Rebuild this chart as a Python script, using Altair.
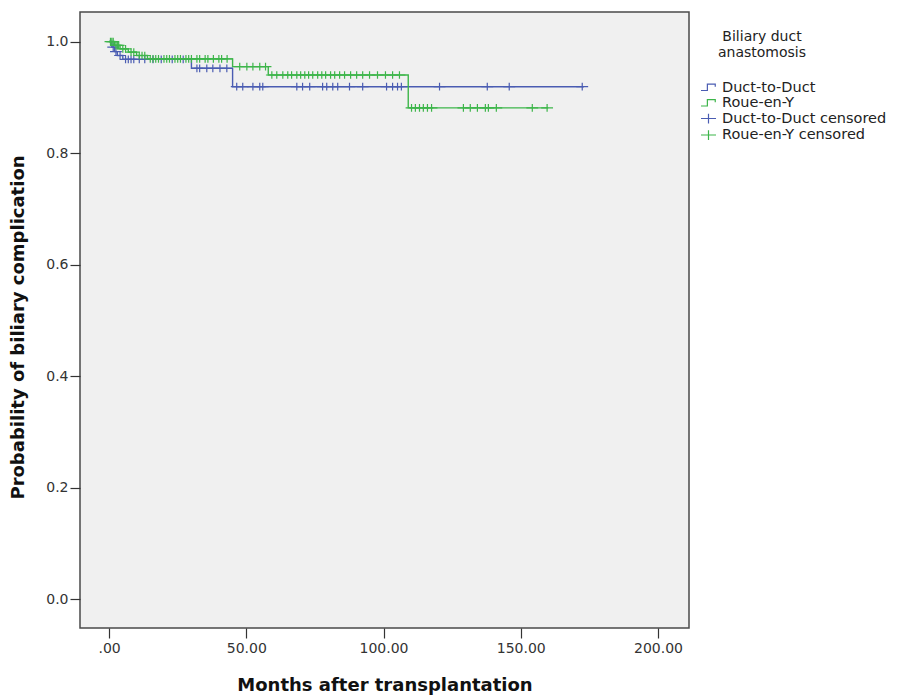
import altair as alt
import pandas as pd

# Kaplan-Meier step curves (event times in months, survival probability)
dd_time = [0, 1, 2, 3, 5, 30, 45, 173]
dd_surv = [1.0, 0.99, 0.982, 0.975, 0.968, 0.952, 0.919, 0.919]
ry_time = [0, 2, 4, 7, 10, 14, 45, 58, 109, 160]
ry_surv = [1.0, 0.993, 0.987, 0.981, 0.975, 0.969, 0.955, 0.94, 0.881, 0.881]

# Censored observation times
dd_cens = [1.5, 2.5, 4, 6, 7, 8, 9, 11, 13, 16, 19, 23, 27,
           32, 33, 35.6, 37.8, 40.4, 42.9,
           46.5, 48.7, 52.4, 54.9, 56.0, 68.4, 70.5, 73.1, 77.8, 79.3, 81.5, 83.3,
           87.6, 92.4, 101.1, 103.3, 105.1, 106.5, 120.4, 137.8, 145.8, 172.4]
ry_cens = [0.5, 1, 1.5, 2.5, 3, 3.5, 5, 6, 8, 9, 11, 12, 13, 15, 16, 17, 18, 20, 21,
           22, 24, 25, 26, 28, 29, 30, 32, 33, 35, 36, 38, 40, 41, 43,
           47.6, 50.2, 52.4, 54.9, 57.0,
           59.3, 61.1, 63.3, 65.1, 66.5, 68.4, 69.8, 71.3, 72.7, 74.2, 76.0, 77.5,
           78.9, 80.7, 82.2, 84.0, 85.8, 88.0, 90.2, 92.4, 94.9, 97.8, 100.7, 103.3, 105.8,
           110.2, 111.6, 113.1, 114.5, 116.0, 117.5, 129.1, 131.6, 134.2, 137.1, 138.2,
           141.1, 154.2, 159.6]

entries = ["Duct-to-Duct", "Roue-en-Y", "Duct-to-Duct censored", "Roue-en-Y censored"]
colors = ["#4a5cb2", "#3db54a", "#4a5cb2", "#3db54a"]
step_path = "M-1,0.4H-0.15V-0.45H0.9V-0.1"
cross_path = "M-1,0H1M0,-0.65V0.65"
x_ticks = [0, 50, 100, 150, 200]
y_ticks = [0.0, 0.2, 0.4, 0.6, 0.8, 1.0]


def lookup(times, survs, t):
    s = survs[0]
    for tt, ss in zip(times, survs):
        if tt <= t:
            s = ss
    return s


line_rows = [{"t": t, "s": s, "entry": entries[0]} for t, s in zip(dd_time, dd_surv)]
line_rows += [{"t": t, "s": s, "entry": entries[1]} for t, s in zip(ry_time, ry_surv)]
cens_rows = [{"t": t, "s": lookup(dd_time, dd_surv, t), "entry": entries[2]} for t in dd_cens]
cens_rows += [{"t": t, "s": lookup(ry_time, ry_surv, t), "entry": entries[3]} for t in ry_cens]
lines_df = pd.DataFrame(line_rows)
cens_df = pd.DataFrame(cens_rows)

x_enc = alt.X(
    "t:Q",
    scale=alt.Scale(domain=[-10.6, 211.3], nice=False, zero=False),
    axis=alt.Axis(
        values=x_ticks,
        labelExpr="datum.value == 0 ? '.00' : format(datum.value, '.2f')",
        title="Months after transplantation",
        titlePadding=21, labelPadding=3,
    ),
)
y_enc = alt.Y(
    "s:Q",
    scale=alt.Scale(domain=[-0.052, 1.053], nice=False, zero=False),
    axis=alt.Axis(values=y_ticks, format=".1f", title="Probability of biliary complication",
                  titlePadding=18, labelPadding=2, titleY=315),
)

legend = alt.Legend(
    title=None, orient="none", legendX=620, legendY=67,
    symbolSize=225, symbolStrokeWidth=1.2, symbolFillColor="transparent",
    labelFont="DejaVu Sans", labelFontSize=14.5, labelColor="#222", labelLimit=300,
    rowPadding=0.5, labelOffset=5, padding=0,
)
color_scale = alt.Scale(domain=entries, range=colors)
shape_scale = alt.Scale(domain=entries, range=[step_path, step_path, cross_path, cross_path])

lines = alt.Chart(lines_df).mark_line(interpolate="step-after", strokeWidth=1.4).encode(
    x=x_enc, y=y_enc,
    color=alt.Color("entry:N", scale=color_scale, legend=legend),
)
points = alt.Chart(cens_df).mark_point(filled=False, size=140, strokeWidth=1.2, opacity=1).encode(
    x=x_enc, y=y_enc,
    color=alt.Color("entry:N", scale=color_scale, legend=legend),
    shape=alt.Shape("entry:N", scale=shape_scale, legend=legend),
)

chart = alt.layer(lines, points).properties(
    width=609, height=616,
    autosize="none",
    padding={"left": 72, "top": 4, "right": 200, "bottom": 67},
    title=alt.TitleParams(
        text=["Biliary duct", "anastomosis"], anchor="start", frame="group",
        align="center", baseline="top", dx=682, dy=48, offset=0,
        font="DejaVu Sans", fontSize=14, fontWeight="normal", color="#222", lineHeight=16,
    ),
).configure_view(
    fill="#f0f0f0", stroke="#4a4a4a", strokeWidth=1.5,
).configure_axis(
    grid=False, domain=False, tickColor="#333", tickSize=10, tickWidth=1.2,
    labelFont="DejaVu Sans", labelFontSize=14, labelColor="#333",
    titleFont="DejaVu Sans", titleFontSize=18, titleFontWeight="bold", titleColor="#111",
)

chart.save("out.html", embed_options={"renderer": "svg", "actions": False})
